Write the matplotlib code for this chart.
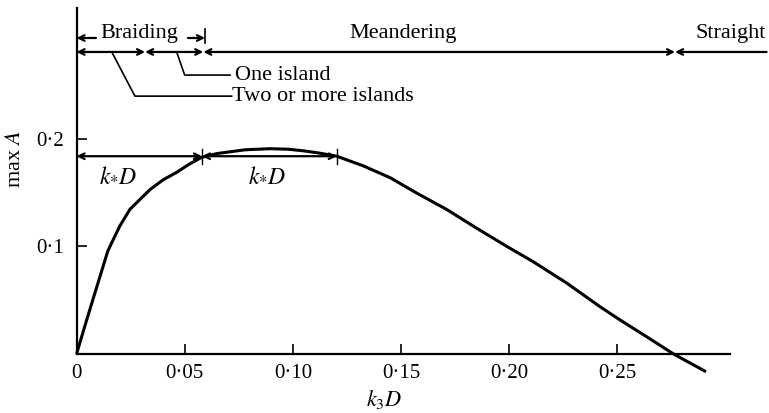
import matplotlib
matplotlib.use("Agg")
import matplotlib.pyplot as plt

plt.rcParams['font.family'] = ['Liberation Serif', 'DejaVu Serif']
plt.rcParams['mathtext.fontset'] = 'stix'

# ---- data ----
k3D = [0, 0.0055, 0.0145, 0.0200, 0.0247, 0.034, 0.040, 0.0463, 0.052,
       0.0579, 0.065, 0.078, 0.0895, 0.098, 0.105, 0.112, 0.1203, 0.1326,
       0.145, 0.157, 0.171, 0.185, 0.199, 0.211, 0.2266, 0.242, 0.251,
       0.2636, 0.276, 0.291]
maxA = [0, 0.037, 0.096, 0.119, 0.1346, 0.153, 0.162, 0.169, 0.1765,
        0.183, 0.1865, 0.190, 0.191, 0.1905, 0.189, 0.187, 0.184, 0.175,
        0.164, 0.150, 0.1346, 0.117, 0.100, 0.086, 0.066, 0.044, 0.032,
        0.016, 0.0, -0.0165]

xticks = [0, 0.05, 0.10, 0.15, 0.20, 0.25]
xticklabels = ['0', '0·05', '0·10', '0·15', '0·20', '0·25']
yticks = [0.1, 0.2]
yticklabels = ['0·1', '0·2']

regime_bounds = [0, 0.0317, 0.0586, 0.2767, 0.319]
regime_names = ['Braiding', 'Meandering', 'Straight']
regime_label_x = [0.029, 0.151, 0.3026]
kstar = [0.0580, 0.1203]
kstar_level = 0.184

fig = plt.figure(figsize=(7.69, 4.13), dpi=100)
ax = fig.add_axes([0.0995, 0.1429, 0.8495, 0.838])
ax.set_xlim(0, 0.302)
ax.set_ylim(0, 0.322)
for s in ['top', 'right']:
    ax.spines[s].set_visible(False)
for s in ['left', 'bottom']:
    ax.spines[s].set_linewidth(1.6)

ax.plot(k3D, maxA, color='black', lw=2.2, clip_on=False,
        solid_capstyle='butt', solid_joinstyle='round')

ax.set_xticks(xticks)
ax.set_xticklabels(xticklabels)
ax.set_yticks(yticks)
ax.set_yticklabels(yticklabels)
ax.tick_params(axis='both', direction='in', length=7, width=1.2, labelsize=15)
ax.tick_params(axis='x', pad=7)
ax.tick_params(axis='y', pad=9)

fs = 16

def arrow(x0, x1, y, style):
    ax.annotate('', xy=(x1, y), xytext=(x0, y), xycoords='data',
                arrowprops=dict(arrowstyle=style, color='black', lw=1.6,
                                shrinkA=0, shrinkB=0,
                                mutation_scale=10),
                annotation_clip=False)

# regime line
yr = 0.281
for i in range(len(regime_bounds) - 1):
    style = '<->' if i < len(regime_bounds) - 2 else '<-'
    arrow(regime_bounds[i], regime_bounds[i + 1], yr, style)

ytxt = 0.2985
for name, xl in zip(regime_names, regime_label_x):
    ax.text(xl, ytxt, name, ha='center', va='center', fontsize=fs, clip_on=False)

# braiding span arrows
yb = 0.294
arrow(0.009, 0.0, yb, '->')
arrow(0.0515, 0.0594, yb, '->')
ax.plot([0.0594, 0.0594], [0.289, 0.302], color='black', lw=1.2, clip_on=False)

# leader lines
ax.plot([0.0463, 0.050, 0.071], [yr, 0.2595, 0.2595], color='black', lw=1.2, clip_on=False)
ax.text(0.0733, 0.2595, 'One island', ha='left', va='center', fontsize=fs)
ax.plot([0.0163, 0.027, 0.0717], [yr, 0.2399, 0.2399], color='black', lw=1.2, clip_on=False)
ax.text(0.0717, 0.2399, 'Two or more islands', ha='left', va='center', fontsize=fs)

# k*D arrows
arrow(0.0, kstar[0], kstar_level, '<->')
arrow(kstar[0], kstar[1], kstar_level, '<->')
for xv in kstar:
    ax.plot([xv, xv], [kstar_level - 0.007, kstar_level + 0.007], color='black', lw=1.0)
ax.text(0.0193, 0.1665, r'$k_{*}D$', ha='center', va='center', fontsize=17)
ax.text(0.088, 0.1665, r'$k_{*}D$', ha='center', va='center', fontsize=17)

# axis labels
ax.text(0.142, -0.0425, r'$k_3D$', ha='center', va='center', fontsize=16)
fig.text(15 / 769, 1 - 159 / 413, r'max $A$', rotation=90, ha='center', va='center', fontsize=16)

fig.savefig('out.png', dpi=100)
